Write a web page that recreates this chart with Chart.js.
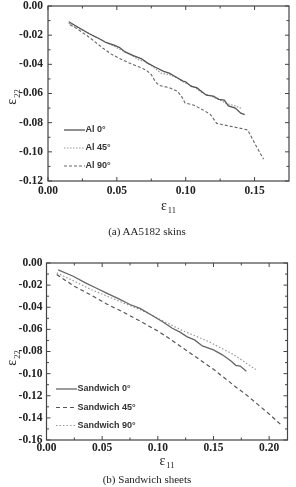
<!DOCTYPE html>
<html><head><meta charset="utf-8">
<script src="https://cdn.jsdelivr.net/npm/chart.js@4.4.1/dist/chart.umd.min.js"></script>
<style>
html,body{margin:0;padding:0;background:#fff;}
body{width:296px;height:487px;position:relative;overflow:hidden;}
#c1{position:absolute;left:0;top:0;}
#c2{position:absolute;left:0;top:240px;}
.cap{position:absolute;left:0;width:296px;text-align:center;font:11px "Liberation Serif","Times New Roman",serif;color:#222;line-height:13px;}
</style></head><body>
<canvas id="c1" width="296" height="240"></canvas>
<canvas id="c2" width="296" height="247"></canvas>
<div class="cap" style="top:225px;left:-1px">(a) AA5182 skins</div>
<div class="cap" style="top:473px;left:-1px">(b) Sandwich sheets</div>
<script>
// ---------- data: (a) AA5182 skins ----------
const al0X = [0.0151,0.020,0.030,0.038,0.042,0.048,0.052,0.056,0.062,0.068,0.072,0.078,0.084,0.088,0.092,0.098,0.100,0.104,0.108,0.112,0.115,0.120,0.124,0.128,0.131,0.136,0.140,0.1428];
const al0Y = [-0.0108,-0.0135,-0.0190,-0.0228,-0.0250,-0.0268,-0.0285,-0.0315,-0.0340,-0.0362,-0.0390,-0.0420,-0.0448,-0.0460,-0.0482,-0.0515,-0.0520,-0.0552,-0.0560,-0.0590,-0.0612,-0.0618,-0.0640,-0.0645,-0.0685,-0.0700,-0.0735,-0.0745];
const al45X = [0.015,0.025,0.035,0.045,0.055,0.062,0.066,0.070,0.076,0.082,0.088,0.094,0.100,0.106,0.112,0.118,0.124,0.130,0.136,0.1405];
const al45Y = [-0.0118,-0.0165,-0.0215,-0.0262,-0.0310,-0.0345,-0.0370,-0.0378,-0.0415,-0.0460,-0.0470,-0.0495,-0.0530,-0.0555,-0.0595,-0.0615,-0.0640,-0.0670,-0.0685,-0.0702];
const al90X = [0.016,0.021,0.030,0.040,0.046,0.052,0.060,0.068,0.072,0.075,0.078,0.081,0.088,0.094,0.097,0.0995,0.106,0.110,0.114,0.118,0.1225,0.130,0.138,0.145,0.150,0.1565];
const al90Y = [-0.0128,-0.0155,-0.0215,-0.0290,-0.0330,-0.0360,-0.0395,-0.0425,-0.0445,-0.0470,-0.0520,-0.0545,-0.0560,-0.0585,-0.0620,-0.0665,-0.0680,-0.0700,-0.0720,-0.0745,-0.0805,-0.0820,-0.0835,-0.0850,-0.0940,-0.1050];
const labelsA = ['Al 0°','Al 45°','Al 90°'];
const xTicksA = [0, 0.05, 0.10, 0.15];
const xMinorA = [0.025, 0.075, 0.125];
const yTicksA = [0, -0.02, -0.04, -0.06, -0.08, -0.10, -0.12];
const yMinorA = [-0.01, -0.03, -0.05, -0.07, -0.09, -0.11];

// ---------- data: (b) Sandwich sheets ----------
const sw0X = [0.0105,0.024,0.035,0.045,0.054,0.065,0.075,0.084,0.095,0.105,0.113,0.120,0.126,0.133,0.140,0.150,0.158,0.166,0.170,0.174,0.1795];
const sw0Y = [-0.0062,-0.0120,-0.0180,-0.0228,-0.0272,-0.0325,-0.0375,-0.0410,-0.0475,-0.0535,-0.0590,-0.0625,-0.0665,-0.0695,-0.0750,-0.0785,-0.0830,-0.0888,-0.0925,-0.0932,-0.0978];
const sw45X = [0.0092,0.024,0.040,0.054,0.070,0.084,0.100,0.110,0.120,0.135,0.150,0.160,0.170,0.180,0.190,0.200,0.2115];
const sw45Y = [-0.0104,-0.0205,-0.0290,-0.0370,-0.0450,-0.0525,-0.0615,-0.0680,-0.0750,-0.0855,-0.0960,-0.1040,-0.1120,-0.1195,-0.1280,-0.1365,-0.1470];
const sw90X = [0.0092,0.024,0.040,0.054,0.070,0.084,0.100,0.112,0.123,0.135,0.145,0.157,0.168,0.178,0.188];
const sw90Y = [-0.0089,-0.0160,-0.0240,-0.0298,-0.0365,-0.0420,-0.0500,-0.0560,-0.0615,-0.0665,-0.0707,-0.0770,-0.0827,-0.0895,-0.0963];
const labelsB = ['Sandwich 0°','Sandwich 45°','Sandwich 90°'];
const xTicksB = [0, 0.05, 0.10, 0.15, 0.20];
const xMinorB = [0.025, 0.075, 0.125, 0.175];
const yTicksB = [0, -0.02, -0.04, -0.06, -0.08, -0.10, -0.12, -0.14, -0.16];
const yMinorB = [-0.01, -0.03, -0.05, -0.07, -0.09, -0.11, -0.13, -0.15];

const pts = (xs, ys) => xs.map((x, i) => ({x, y: ys[i]}));

function drawEps(ctx, sub, cx, cy, rotate) {
  ctx.save();
  ctx.translate(cx, cy);
  if (rotate) ctx.rotate(-Math.PI / 2);
  ctx.fillStyle = '#222';
  const f1 = '14px "Liberation Serif", serif', f2 = '8.5px "Liberation Serif", serif';
  ctx.font = f1; const w1 = ctx.measureText('ε').width;
  ctx.font = f2; const w2 = ctx.measureText(sub).width;
  const x0 = -(w1 + w2 + 1) / 2;
  ctx.textBaseline = 'middle'; ctx.textAlign = 'left';
  ctx.font = f1; ctx.fillText('ε', x0, 0);
  ctx.font = f2; ctx.fillText(sub, x0 + w1 + 1, 5);
  ctx.restore();
}

const framePlugin = {
  id: 'frame',
  afterDraw(chart, args, o) {
    const {ctx, chartArea: a, scales: {x, y}} = chart;
    ctx.save();
    ctx.strokeStyle = '#444';
    ctx.lineWidth = 1.2;
    ctx.strokeRect(a.left, a.top, a.right - a.left, a.bottom - a.top);
    ctx.lineWidth = 1;
    const vt = (vals, len) => vals.forEach(v => {
      const p = x.getPixelForValue(v);
      ctx.beginPath();
      ctx.moveTo(p, a.bottom); ctx.lineTo(p, a.bottom - len);
      ctx.moveTo(p, a.top); ctx.lineTo(p, a.top + len);
      ctx.stroke();
    });
    const ht = (vals, len) => vals.forEach(v => {
      const p = y.getPixelForValue(v);
      ctx.beginPath();
      ctx.moveTo(a.left, p); ctx.lineTo(a.left + len, p);
      ctx.moveTo(a.right, p); ctx.lineTo(a.right - len, p);
      ctx.stroke();
    });
    vt(o.xMajor, 4); vt(o.xMinor, 2.5);
    ht(o.yMajor, 4); ht(o.yMinor, 2.5);
    // legend
    chart.data.datasets.forEach((ds, i) => {
      const ly = o.legY[i];
      ctx.save();
      ctx.strokeStyle = ds.borderColor;
      ctx.lineWidth = ds.borderWidth;
      ctx.setLineDash(ds.borderDash || []);
      ctx.beginPath(); ctx.moveTo(o.legX0, ly); ctx.lineTo(o.legX1, ly); ctx.stroke();
      ctx.restore();
      ctx.fillStyle = '#333';
      ctx.font = 'bold 9px "Liberation Sans", Arial, sans-serif';
      ctx.textBaseline = 'middle'; ctx.textAlign = 'left';
      ctx.fillText(ds.label, o.legX1 + 0.5, ly);
    });
    // axis titles
    drawEps(ctx, '11', (a.left + a.right) / 2, o.xTitleY, false);
    drawEps(ctx, '22', 12.5, o.yTitleY, true);
    ctx.restore();
  }
};

function makeChart(id, cfg) {
  const tickFont = {family: '"Liberation Serif", "Times New Roman", serif', size: 11.5, weight: 'bold'};
  return new Chart(document.getElementById(id), {
    type: 'line',
    data: {datasets: cfg.datasets},
    plugins: [framePlugin],
    options: {
      responsive: false,
      animation: false,
      layout: {padding: cfg.pad},
      plugins: {legend: {display: false}, tooltip: {enabled: false}, frame: cfg.frame},
      elements: {point: {radius: 0}, line: {tension: 0}},
      scales: {
        x: {
          type: 'linear', min: 0, max: cfg.xMax,
          grid: {display: false, drawTicks: false}, border: {display: false},
          ticks: {font: tickFont, color: '#222', padding: cfg.xPad, maxRotation: 0, autoSkip: false,
                  callback: v => v.toFixed(2)},
          afterBuildTicks: s => { s.ticks = cfg.frame.xMajor.map(v => ({value: v})); },
          afterFit: s => { s.height = cfg.xH; s.paddingLeft = 0; s.paddingRight = 0; }
        },
        y: {
          type: 'linear', min: cfg.yMin, max: 0,
          grid: {display: false, drawTicks: false}, border: {display: false},
          ticks: {font: tickFont, color: '#222', padding: cfg.yPad, autoSkip: false,
                  callback: v => v.toFixed(2)},
          afterBuildTicks: s => { s.ticks = cfg.frame.yMajor.map(v => ({value: v})); },
          afterFit: s => { s.width = cfg.yW; s.paddingTop = 0; s.paddingBottom = 0; }
        }
      }
    }
  });
}

makeChart('c1', {
  datasets: [
    {label: labelsA[0], data: pts(al0X, al0Y), borderColor: '#555', borderWidth: 1.3},
    {label: labelsA[1], data: pts(al45X, al45Y), borderColor: '#999', borderWidth: 1.2, borderDash: [1.5, 1.5]},
    {label: labelsA[2], data: pts(al90X, al90Y), borderColor: '#666', borderWidth: 1.1, borderDash: [3, 2]}
  ],
  pad: {left: 0, top: 6, right: 7, bottom: 0},
  xMax: 0.175, yMin: -0.12, xH: 59, yW: 48, xPad: 3, yPad: 5,
  frame: {xMajor: xTicksA, xMinor: xMinorA, yMajor: yTicksA, yMinor: yMinorA,
          legX0: 64, legX1: 85, legY: [130, 148, 166], xTitleY: 206, yTitleY: 97}
});

makeChart('c2', {
  datasets: [
    {label: labelsB[0], data: pts(sw0X, sw0Y), borderColor: '#666', borderWidth: 1.3},
    {label: labelsB[1], data: pts(sw45X, sw45Y), borderColor: '#555', borderWidth: 1.2, borderDash: [4, 3]},
    {label: labelsB[2], data: pts(sw90X, sw90Y), borderColor: '#999', borderWidth: 1.2, borderDash: [1.5, 2]}
  ],
  pad: {left: 0, top: 23, right: 8.5, bottom: 0},
  xMax: 0.2165, yMin: -0.16, xH: 47, yW: 46.5, xPad: 1, yPad: 4,
  frame: {xMajor: xTicksB, xMinor: xMinorB, yMajor: yTicksB, yMinor: yMinorB,
          legX0: 56, legX1: 77, legY: [149, 167.5, 185.5], xTitleY: 221, yTitleY: 118}
});
</script>
</body></html>
